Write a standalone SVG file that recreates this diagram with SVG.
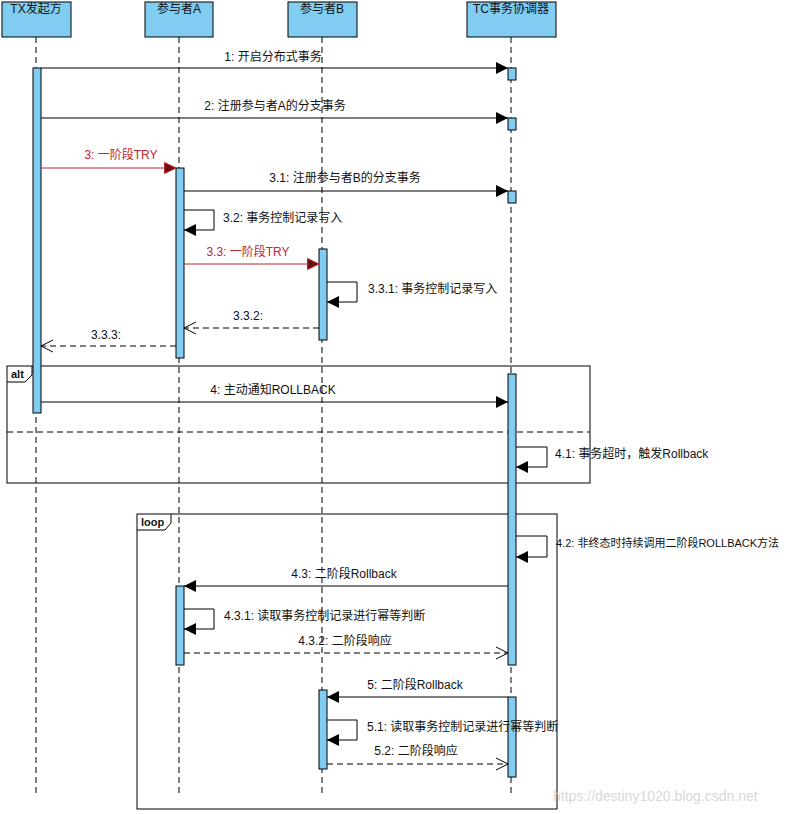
<svg xmlns="http://www.w3.org/2000/svg" width="794" height="814" viewBox="0 0 794 814">
<style>
text{font-family:"Liberation Sans","Noto Sans CJK SC",sans-serif;font-size:12px;fill:#111}
.box{fill:#81cdf1;stroke:#000;stroke-width:1}
.act{fill:#81cdf1;stroke:#000;stroke-width:1}
.life{stroke:#000;stroke-width:1;stroke-dasharray:6,4;fill:none}
.msg{stroke:#000;stroke-width:1;fill:none;marker-end:url(#fill)}
.red{stroke:#c0262d;stroke-width:1;fill:none;marker-end:url(#fillred)}
.ret{stroke:#000;stroke-width:1;fill:none;stroke-dasharray:6,4;marker-end:url(#open)}
.frame{fill:none;stroke:#000;stroke-width:1}
.c{text-anchor:middle}
.rt{fill:#c0262d}
.tag{font-weight:bold;font-size:11px}
</style>
<defs>
<marker id="fill" markerUnits="userSpaceOnUse" markerWidth="13" markerHeight="13" viewBox="0 0 13 13" refX="12" refY="6.5" orient="auto"><path d="M0,0.5 L12,6.5 L0,12.5 Z" fill="#000"/></marker>
<marker id="fillred" markerUnits="userSpaceOnUse" markerWidth="13" markerHeight="13" viewBox="0 0 13 13" refX="12" refY="6.5" orient="auto"><path d="M0.5,1 L12,6.5 L0.5,12 Z" fill="#6e0d0d" stroke="#c0262d" stroke-width="1"/></marker>
<marker id="open" markerUnits="userSpaceOnUse" markerWidth="14" markerHeight="14" viewBox="0 0 14 14" refX="13" refY="7" orient="auto"><path d="M1,1 L13,7 L1,13" fill="none" stroke="#000" stroke-width="1"/></marker>
</defs>

<g id="lifelines">
<line class="life" x1="36" y1="37" x2="36" y2="795"/>
<line class="life" x1="179" y1="37" x2="179" y2="795"/>
<line class="life" x1="322" y1="37" x2="322" y2="795"/>
<line class="life" x1="511" y1="37" x2="511" y2="795"/>
</g>

<g id="frames">
<rect class="frame" x="7" y="366" width="583" height="117"/>
<path class="frame" d="M7,382 H25 L32,375 V366"/>
<text class="tag" x="11" y="378">alt</text>
<line x1="7" y1="432" x2="590" y2="432" stroke="#000" stroke-dasharray="6,4"/>
<rect class="frame" x="137" y="514" width="420" height="295"/>
<path class="frame" d="M137,530 H165 L171,523 V514"/>
<text class="tag" x="141" y="526">loop</text>
</g>

<g id="p-tx"><rect class="box" x="2" y="2" width="69" height="35"/><text class="c" x="36" y="13">TX发起方</text></g>
<g id="p-a"><rect class="box" x="145" y="2" width="68" height="35"/><text class="c" x="179" y="13">参与者A</text></g>
<g id="p-b"><rect class="box" x="288" y="2" width="69" height="35"/><text class="c" x="322" y="13">参与者B</text></g>
<g id="p-tc"><rect class="box" x="467" y="2" width="89" height="35"/><text class="c" x="511" y="13">TC事务协调器</text></g>

<g id="activations">
<rect class="act" x="33" y="68" width="8" height="345"/>
<rect class="act" x="508" y="68" width="8" height="12"/>
<rect class="act" x="508" y="118" width="8" height="12"/>
<rect class="act" x="508" y="191" width="8" height="12"/>
<rect class="act" x="176" y="168" width="8" height="190"/>
<rect class="act" x="319" y="249" width="8" height="91"/>
<rect class="act" x="508" y="374" width="8" height="291"/>
<rect class="act" x="176" y="586" width="8" height="79"/>
<rect class="act" x="319" y="690" width="8" height="79"/>
<rect class="act" x="508" y="697" width="8" height="80"/>
</g>

<g id="connectors">
<line class="msg" x1="41" y1="68" x2="508" y2="68"/>
<line class="msg" x1="41" y1="118" x2="508" y2="118"/>
<line class="red" x1="41" y1="168" x2="176" y2="168"/>
<line class="msg" x1="184" y1="191" x2="508" y2="191"/>
<path class="msg" d="M184,210 H214 V230 H184"/>
<line class="red" x1="184" y1="264" x2="319" y2="264"/>
<path class="msg" d="M327,282 H357 V302 H327"/>
<line class="ret" x1="319" y1="328" x2="184" y2="328"/>
<line class="ret" x1="176" y1="346" x2="41" y2="346"/>
<line class="msg" x1="41" y1="402" x2="508" y2="402"/>
<path class="msg" d="M516,447 H547 V467 H516"/>
<path class="msg" d="M516,536 H547 V557 H516"/>
<line class="msg" x1="508" y1="586" x2="184" y2="586"/>
<path class="msg" d="M184,609 H214 V629 H184"/>
<line class="ret" x1="184" y1="653" x2="508" y2="653"/>
<line class="msg" x1="508" y1="697" x2="327" y2="697"/>
<path class="msg" d="M327,720 H357 V740 H327"/>
<line class="ret" x1="327" y1="764" x2="508" y2="764"/>
</g>

<g id="labels">
<text class="c" x="273" y="61">1: 开启分布式事务</text>
<text class="c" x="275" y="110">2: 注册参与者A的分支事务</text>
<text class="c rt" x="121" y="159">3: 一阶段TRY</text>
<text class="c" x="345" y="182">3.1: 注册参与者B的分支事务</text>
<text x="223" y="222">3.2: 事务控制记录写入</text>
<text class="c rt" x="248" y="256">3.3: 一阶段TRY</text>
<text x="368" y="293">3.3.1: 事务控制记录写入</text>
<text class="c" x="248" y="320">3.3.2:</text>
<text class="c" x="106" y="339">3.3.3:</text>
<text class="c" x="273" y="394">4: 主动通知ROLLBACK</text>
<text x="555" y="458">4.1: 事务超时，触发Rollback</text>
<text x="556" y="547" style="font-size:11px">4.2: 非终态时持续调用二阶段ROLLBACK方法</text>
<text class="c" x="344" y="578">4.3: 二阶段Rollback</text>
<text x="224" y="620">4.3.1: 读取事务控制记录进行幂等判断</text>
<text class="c" x="345" y="645">4.3.2: 二阶段响应</text>
<text class="c" x="415" y="689">5: 二阶段Rollback</text>
<text x="367" y="731">5.1: 读取事务控制记录进行幂等判断</text>
<text class="c" x="416" y="755">5.2: 二阶段响应</text>
</g>

<text x="553" y="801" style="font-size:14px;fill:#d8d8d8">https://destiny1020.blog.csdn.net</text>
</svg>
